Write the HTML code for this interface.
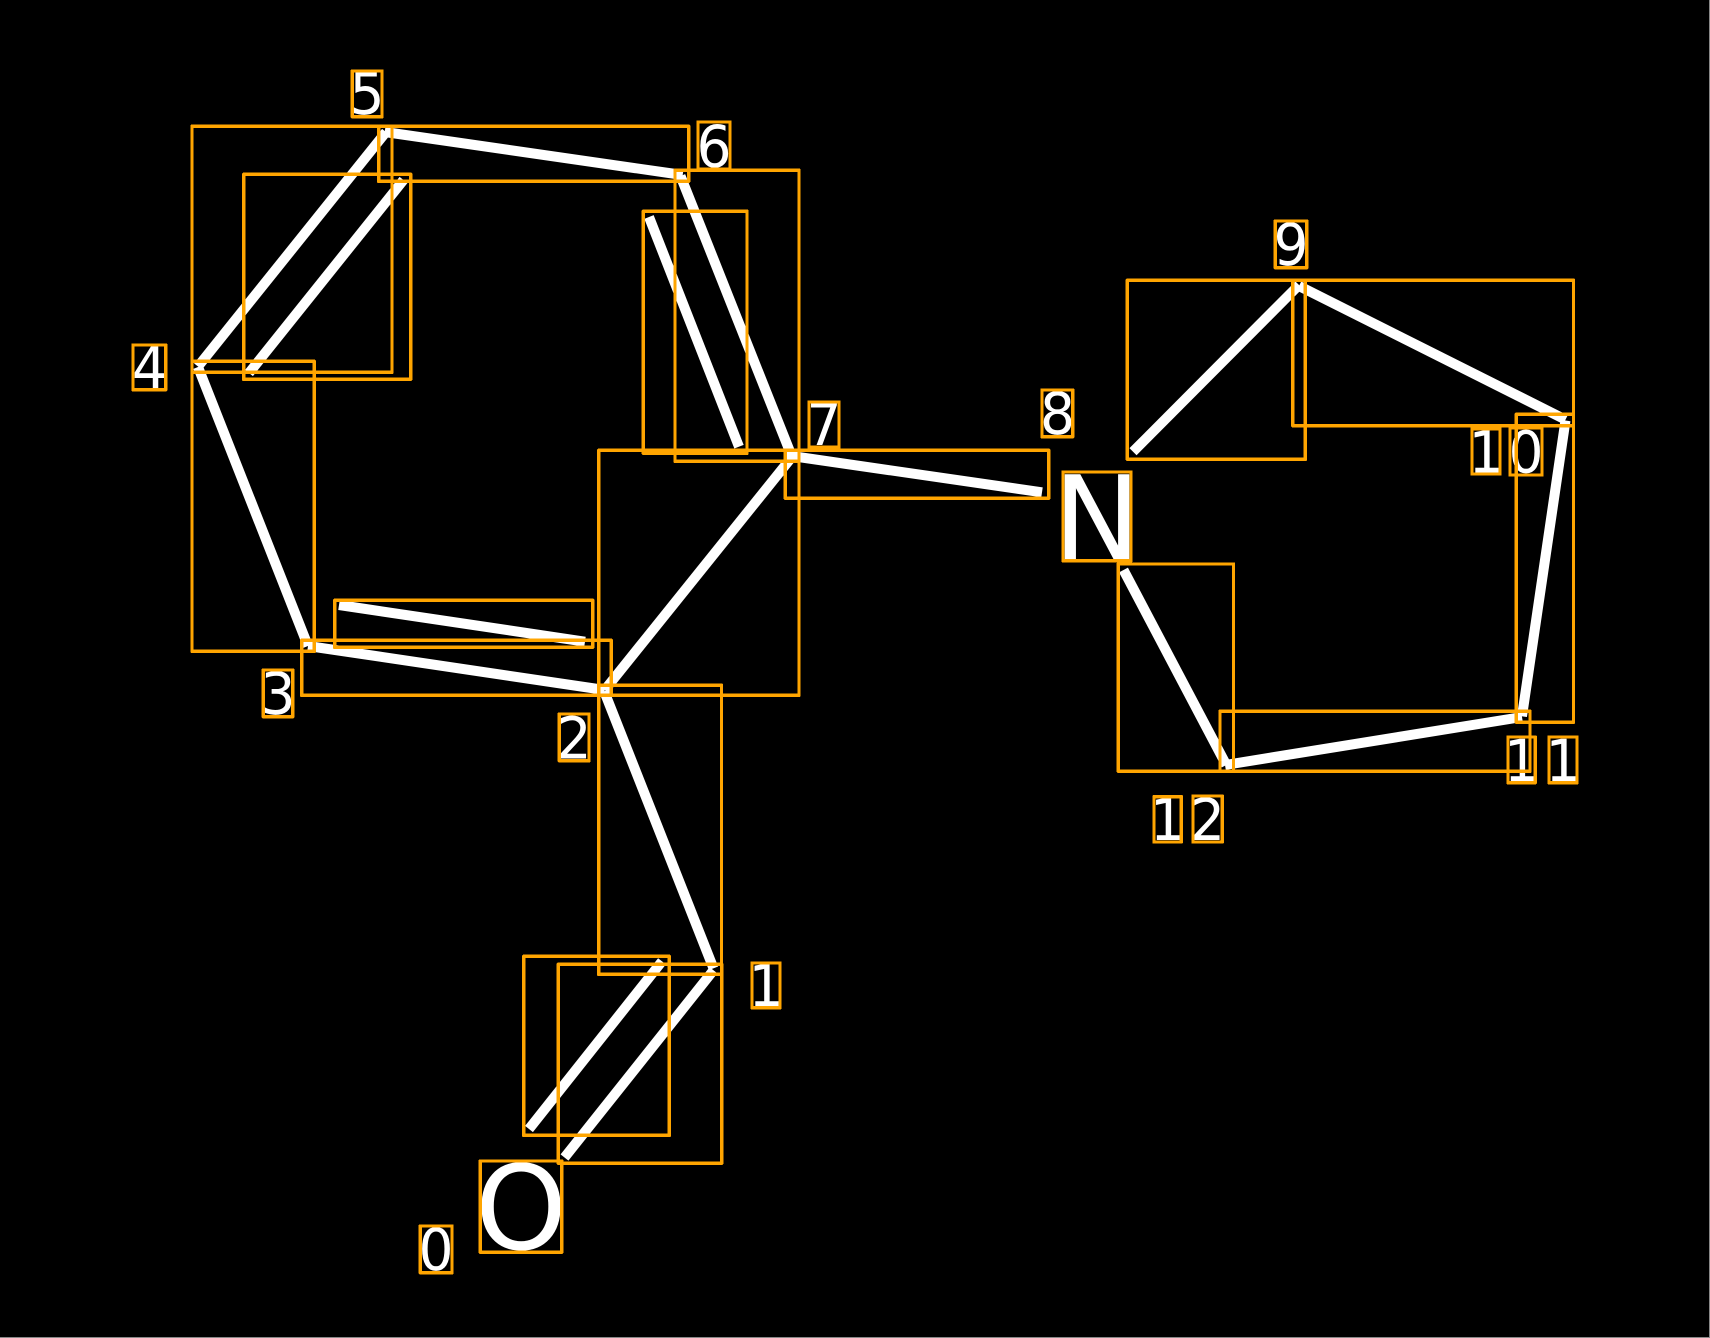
<!DOCTYPE html>
<html>
<head>
<meta charset="utf-8">
<style>
html,body{margin:0;padding:0;background:#000;width:1710px;height:1338px;overflow:hidden}
svg{display:block}
text{font-family:"DejaVu Sans",sans-serif;fill:#fff;text-anchor:middle;text-rendering:geometricPrecision}
.d{font-size:58px}
.b{font-size:117px}
line{stroke:#fff;stroke-width:10;stroke-linecap:butt}
rect.o{fill:none;stroke:#FFA500;stroke-width:3.4;stroke-linejoin:round;shape-rendering:crispEdges}
</style>
</head>
<body>
<svg width="1710" height="1338" viewBox="0 0 1710 1338" xmlns="http://www.w3.org/2000/svg">
<rect x="0" y="0" width="1710" height="1338" fill="#000"/>
<rect x="1709" y="0" width="1" height="1338" fill="#888"/>
<rect x="0" y="1337" width="1710" height="1" fill="#888"/>

<!-- bonds -->
<line x1="564.5" y1="1157.5" x2="713.5" y2="970.3"/>
<line x1="529" y1="1129" x2="662" y2="961.3"/>
<line x1="713.5" y1="968.3" x2="604.2" y2="691.3"/>
<line x1="604.7" y1="690" x2="308" y2="646"/>
<line x1="585" y1="641.7" x2="339" y2="605"/>
<line x1="308" y1="646" x2="198" y2="367"/>
<line x1="198" y1="366.5" x2="386" y2="132"/>
<line x1="249" y1="373" x2="403.5" y2="180"/>
<line x1="384.7" y1="132" x2="682.7" y2="175"/>
<line x1="680.5" y1="176" x2="791.5" y2="455.5"/>
<line x1="649" y1="217" x2="739" y2="446.7"/>
<line x1="604.7" y1="690" x2="792.7" y2="456"/>
<line x1="791.5" y1="456" x2="1042" y2="492.3"/>
<line x1="1133" y1="451.7" x2="1299" y2="285"/>
<line x1="1299" y1="286" x2="1565.5" y2="419.7"/>
<line x1="1565.5" y1="420.5" x2="1522" y2="716.3"/>
<line x1="1522" y1="717" x2="1225" y2="765"/>
<line x1="1226.3" y1="765" x2="1123.5" y2="570"/>

<!-- atoms -->
<text class="b" x="1097" y="559.3">N</text>
<text class="b" x="521" y="1249">O</text>

<!-- indices -->
<text class="d" transform="translate(436,1270) scale(.95,1)">0</text>
<text class="d" transform="translate(766,1006) scale(.95,1)">1</text>
<text class="d" transform="translate(574,758.7) scale(.95,1)">2</text>
<text class="d" transform="translate(278,714.2) scale(.95,1)">3</text>
<text class="d" transform="translate(149.5,388) scale(.95,1)">4</text>
<text class="d" transform="translate(367,114) scale(.95,1)">5</text>
<text class="d" transform="translate(714,167) scale(.95,1)">6</text>
<text class="d" transform="translate(824,445) scale(.95,1)">7</text>
<text class="d" transform="translate(1057.5,434.2) scale(.95,1)">8</text>
<text class="d" transform="translate(1291,265.2) scale(.95,1)">9</text>
<text class="d" transform="translate(1486,472.3) scale(.95,1)">1</text>
<text class="d" transform="translate(1526,472.3) scale(.95,1)">0</text>
<text class="d" transform="translate(1521.5,781) scale(.95,1)">1</text>
<text class="d" transform="translate(1563,781) scale(.95,1)">1</text>
<text class="d" transform="translate(1167.5,840) scale(.95,1)">1</text>
<text class="d" transform="translate(1207.5,840) scale(.95,1)">2</text>

<!-- bounding boxes -->
<g>
<rect class="o" x="192" y="126.3" width="200" height="246"/>
<rect class="o" x="243.7" y="174.3" width="167" height="205"/>
<rect class="o" x="378.7" y="126.3" width="310" height="55"/>
<rect class="o" x="192" y="361.3" width="122.3" height="290"/>
<rect class="o" x="301.7" y="640.3" width="309.6" height="55"/>
<rect class="o" x="334.7" y="600.3" width="258" height="47"/>
<rect class="o" x="598.7" y="450.3" width="200.3" height="245"/>
<rect class="o" x="598.7" y="685.3" width="122.8" height="289"/>
<rect class="o" x="558.3" y="964.3" width="163.4" height="199"/>
<rect class="o" x="523.7" y="956.3" width="145.6" height="179"/>
<rect class="o" x="675" y="170.3" width="124" height="291"/>
<rect class="o" x="643.3" y="211.3" width="103.7" height="242"/>
<rect class="o" x="785.3" y="450.3" width="263.4" height="48"/>
<rect class="o" x="1127.3" y="280.3" width="178" height="179"/>
<rect class="o" x="1292.7" y="280.3" width="280.8" height="145.4"/>
<rect class="o" x="1516.3" y="414.3" width="57.2" height="308"/>
<rect class="o" x="1220" y="711.3" width="310" height="60"/>
<rect class="o" x="1118.3" y="564" width="115.2" height="207.3"/>

<rect class="o" x="1063" y="472" width="68" height="88.7"/>
<rect class="o" x="480.3" y="1161" width="81.4" height="91.3"/>

<rect class="o" x="420.3" y="1226" width="31.7" height="46.7"/>
<rect class="o" x="752" y="963" width="28" height="44.7"/>
<rect class="o" x="559.3" y="714" width="29.7" height="46.7"/>
<rect class="o" x="263.3" y="670" width="29.4" height="46.7"/>
<rect class="o" x="133" y="345" width="32.7" height="44.7"/>
<rect class="o" x="352.3" y="71" width="29.7" height="45.7"/>
<rect class="o" x="698" y="122" width="32" height="47"/>
<rect class="o" x="809" y="402" width="30" height="45"/>
<rect class="o" x="1042" y="390" width="30.7" height="46.7"/>
<rect class="o" x="1275.3" y="221" width="31.4" height="46.7"/>
<rect class="o" x="1472" y="428.7" width="28" height="45.3"/>
<rect class="o" x="1510" y="427.7" width="32" height="47.3"/>
<rect class="o" x="1508" y="737" width="27.3" height="45.7"/>
<rect class="o" x="1549" y="737" width="28" height="45.7"/>
<rect class="o" x="1154" y="796.7" width="27.3" height="45.3"/>
<rect class="o" x="1193" y="796" width="29.3" height="46"/>
</g>
</svg>
</body>
</html>
